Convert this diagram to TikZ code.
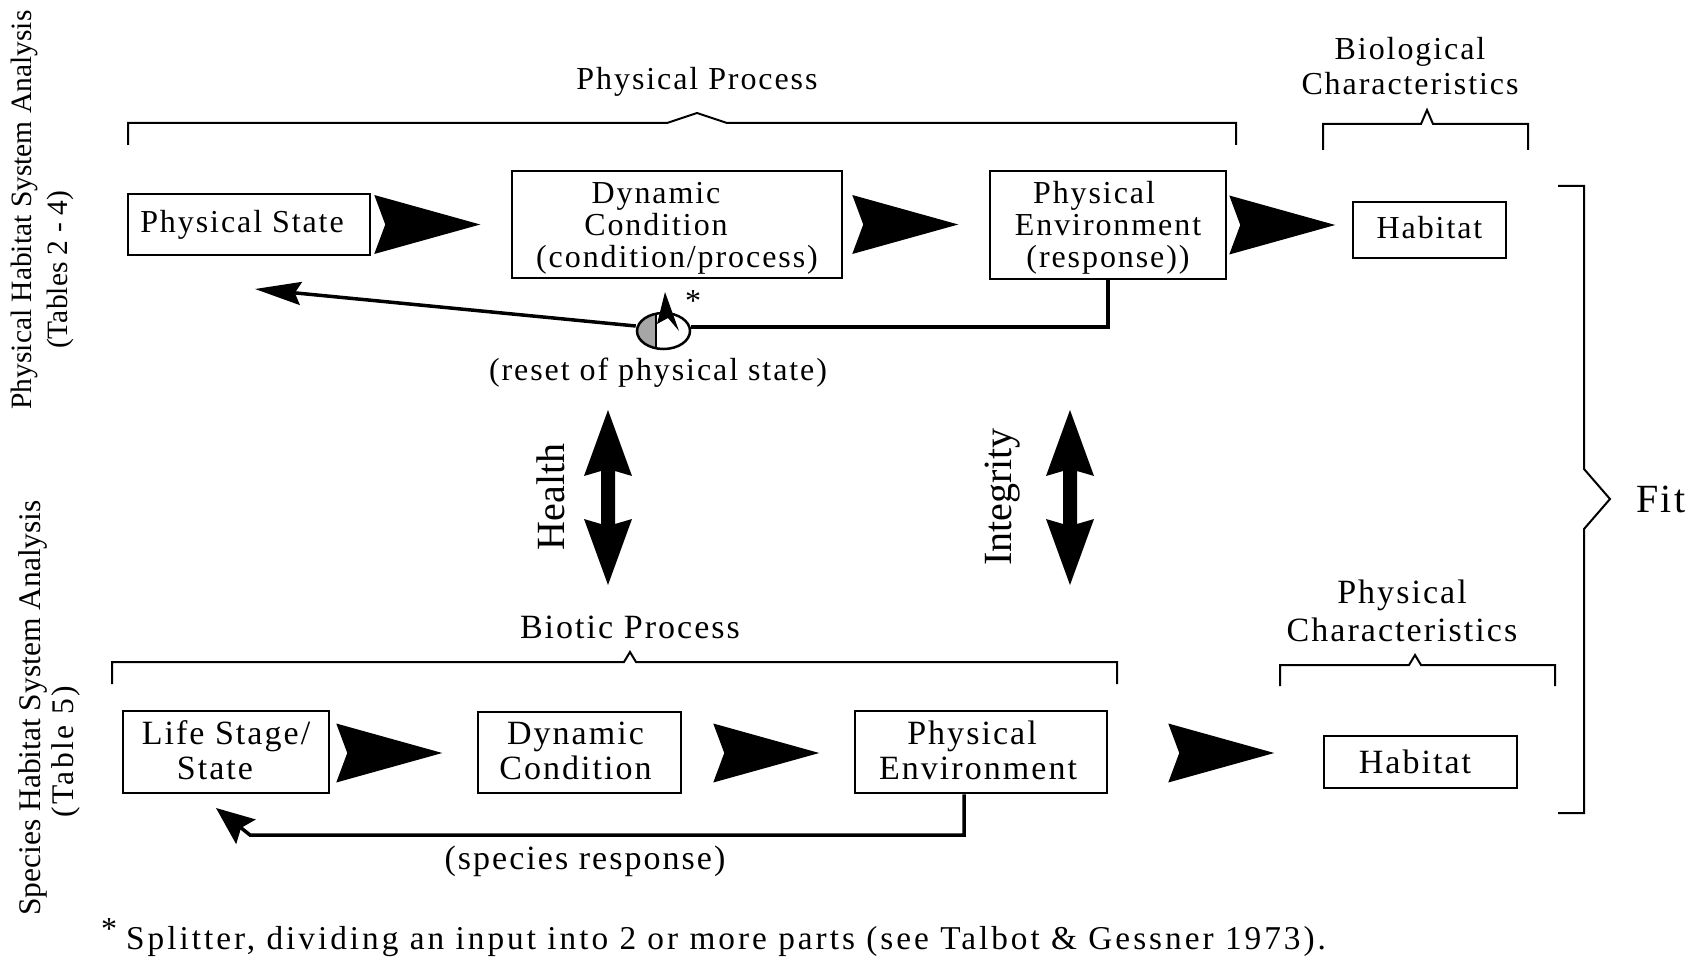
\documentclass[tikz,border=0pt]{standalone}
\usepackage{fontspec}
\setmainfont{Liberation Serif}
\newfontfamily\trk{Liberation Serif}[LetterSpace=6]
\newfontfamily\trkw{Liberation Serif}[LetterSpace=9]
\newfontfamily\trkt{Liberation Serif}[LetterSpace=8]
\usetikzlibrary{arrows.meta,shapes.geometric,calc}
\tikzset{
  box/.style={draw, line width=2.5pt, inner sep=0pt, align=center, font=\trk\fontsize{32}{32}\selectfont},
  boxb/.style={box, font=\trk\fontsize{34}{35}\selectfont},
  lbl/.style={inner sep=0pt, align=center, font=\trk\fontsize{32}{32}\selectfont},
  lblb/.style={lbl, font=\trk\fontsize{34}{35}\selectfont},
  side/.style={inner sep=0pt, rotate=90, font=\fontsize{29.5}{30}\selectfont},
  big/.style={inner sep=0pt, rotate=90, font=\fontsize{40}{40}\selectfont},
  brace/.style={line width=2pt, line join=miter},
  fb/.style={line width=3.5pt},
  bigarr/.pic={\fill (0,-29.5) -- (106,0) -- (0,29.5) -- (11,0) -- cycle;},
  dblarr/.pic={\fill (0,-87.5) -- (24,-21.5) -- (7,-26.5) -- (7,26.5) -- (24,21.5) -- (0,87.5)
     -- (-24,21.5) -- (-7,26.5) -- (-7,-26.5) -- (-24,-21.5) -- cycle;}
}
\begin{document}
\begin{tikzpicture}[x=1pt,y=-1pt]
\useasboundingbox (0,0) rectangle (1700,960);
\fill[white] (0,0) rectangle (1700,960);

% side labels
\node[side] (l1) at (24,210) {Physical Habitat System Analysis};
\node[side] (l2) at (60,270) {(Tables 2 - 4)};
\node[side, font=\fontsize{31.5}{32}\selectfont] (l3) at (33,708) {Species Habitat System Analysis};
\node[side, font=\trkt\fontsize{31.5}{32}\selectfont] (l4) at (66,752) {(Table 5)};

% top row
\node[box, minimum width=242pt, minimum height=61pt] (ps) at (249,224.5) {\hspace*{-14pt}Physical State};
\node[box, minimum width=330pt, minimum height=107pt] (dc) at (677,224.5)
  {\rule{0pt}{28.4pt}\hspace*{-42pt}Dynamic\\\hspace*{-42pt}Condition\\(condition/process)};
\node[box, minimum width=236pt, minimum height=108pt] (pe) at (1108,225)
  {\rule{0pt}{28.4pt}\hspace*{-28pt}Physical\\Environment\\(response))};
\node[box, minimum width=153pt, minimum height=56pt] (h1) at (1429.5,230) {Habitat\rule[-6pt]{0pt}{0pt}};

% bottom row
\node[boxb, minimum width=206pt, minimum height=82pt] (ls) at (226,752)
  {Life Stage/\\\hspace*{-22pt}State\rule[-4pt]{0pt}{0pt}};
\node[boxb, minimum width=203pt, minimum height=81pt] (dc2) at (579.5,752.5)
  {\hspace*{-8pt}Dynamic\\\hspace*{-8pt}Condition\rule[-4pt]{0pt}{0pt}};
\node[boxb, minimum width=252pt, minimum height=82pt] (pe2) at (981,752)
  {\hspace*{-18pt}Physical\\\hspace*{-6pt}Environment\rule[-4pt]{0pt}{0pt}};
\node[boxb, minimum width=193pt, minimum height=52pt] (h2) at (1420.5,762) {\hspace*{-11pt}Habitat};

% big arrowheads
\path (ps.east) ++(3,0) pic {bigarr};
\path (dc.east) ++(9,0) pic {bigarr};
\path (pe.east) ++(2,0) pic {bigarr};
\path (ls.east) ++(6,1) pic {bigarr};
\path (dc2.east) ++(31,0.5) pic {bigarr};
\path (pe2.east) ++(60,1) pic {bigarr};

% braces and their labels
\draw[brace] (128,145) -- (128,123) -- (667,123) -- (697,113) -- (727,123) -- (1236,123) -- (1236,145);
\node[lbl, anchor=base] (tpp) at (697,90) {Physical Process};
\draw[brace] (1323,150) -- (1323,124) -- (1421,124) -- (1427,110) -- (1433,124) -- (1528,124) -- (1528,150);
\node[lbl, anchor=base] (tbc1) at (1410,60) {Biological};
\node[lbl, anchor=base] (tbc2) at (1410,95) {Characteristics};
\draw[brace] (112,684) -- (112,662) -- (624,662) -- (630,652) -- (636,662) -- (1117,662) -- (1117,684);
\node[lblb, anchor=base] (tbp) at (630,638) {Biotic Process};
\draw[brace] (1280,686) -- (1280,665) -- (1409,665) -- (1415,655) -- (1421,665) -- (1555,665) -- (1555,686);
\node[lblb, anchor=base] (tpc1) at (1402,603) {Physical};
\node[lblb, anchor=base] (tpc2) at (1402,641) {Characteristics};
\draw[brace] (1558,186) -- (1584,186) -- (1584,469) -- (1610,499) -- (1584,529) -- (1584,813) -- (1558,813);
\node[inner sep=0pt, font=\trk\fontsize{40}{40}\selectfont] (fit) at (1661,499) {Fit};

% splitter
\begin{scope}
  \clip (663.5,331) ellipse [x radius=26.5, y radius=18];
  \fill[gray!70] (630,300) rectangle (656,360);
\end{scope}
\node[ellipse, draw, line width=2.5pt, minimum width=53pt, minimum height=36pt, inner sep=0pt] (spl) at (663.5,331) {};
\draw[line width=2pt] (656,313.7) -- (656,348.3);
\fill (665,292) -- (657,324) -- (668,318) -- (679,331) -- cycle;
\node[inner sep=0pt, font=\fontsize{32}{32}\selectfont] (ast) at (693,301) {*};
\node[lbl] (reset) at (658,373) {(reset of physical state)};

% top feedback
\coordinate (rs) at (255,289);
\draw[fb] (pe.south) |- ($(spl.east)+(0,-4)$);
\draw[fb, -{Stealth[length=46pt,width=23pt,inset=6pt]}] ($(spl.west)+(0,-5)$) -- (rs);

% bottom feedback
\coordinate (sr1) at (250,835);
\coordinate (sr) at (216,808);
\draw[fb, -{Stealth[length=38pt,width=31pt,inset=6pt]}] ($(pe2.south)+(-17,0)$) |- (sr1) -- (sr);
\node[lblb] (spr) at (585,861) {(species response)};

% health / integrity
\path (608,497.5) pic {dblarr};
\path (1070,497.5) pic {dblarr};
\node[big] (health) at (551,497) {Health};
\node[big] (integ) at (1003,497) {Integrity};

% footnote
\node[inner sep=0pt, font=\fontsize{32}{32}\selectfont] (fast) at (109,929) {*};
\node[inner sep=0pt, anchor=base west, font=\trkw\fontsize{33.3}{34}\selectfont] (foot) at (126,949) {Splitter, dividing an input into 2 or more parts (see Talbot \& Gessner 1973).};
\end{tikzpicture}
\end{document}
